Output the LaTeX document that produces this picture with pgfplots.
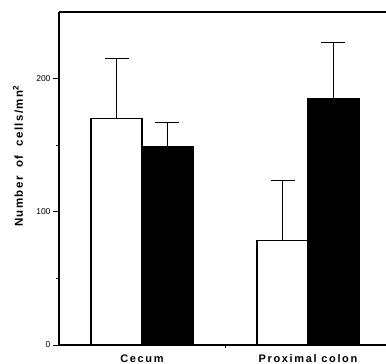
\documentclass[border=0pt]{standalone}
\usepackage{fontspec}
\setmainfont{Liberation Sans}
\usepackage{pgfplots}
\pgfplotsset{compat=1.18}
\begin{document}
\begin{tikzpicture}
\begin{axis}[
  scale only axis, width=327pt, height=333pt,
  xmin=-0.5, xmax=1.47, ymin=0, ymax=250,
  axis x line*=bottom, axis y line*=left,
  axis line style={line width=1.1pt},
  ytick={0,100,200}, minor ytick={50,150},
  tick align=outside, major tick length=6pt, minor tick length=3pt,
  tick style={line width=0.8pt, black},
  xtick={0,1}, xticklabels={Cecum, Proximal colon},
  xtick style={draw=none},
  /pgf/number format/assume math mode=true,
  yticklabel style={font=\fontsize{8.5}{10}\selectfont, xshift=1pt},
  xticklabel style={font=\fontsize{11}{13}\selectfont\bfseries\addfontfeatures{LetterSpace=15}, yshift=0pt},
  every axis y label/.style={at={(rel axis cs:0,0.567)}, xshift=-41pt, rotate=90, anchor=center, font=\fontsize{11.5}{13}\selectfont\bfseries\addfontfeatures{LetterSpace=12}},
  ylabel={Number\hspace{9pt}of\hspace{9pt}cells/mn\textsuperscript{2}},
  clip=false,
]
\addplot[ybar, bar width=0.307, bar shift=0, fill=white, draw=black, line width=1.3pt,
  error bars/.cd, y dir=plus, y explicit, error mark=|,
  error bar style={line width=1pt, black},
  error mark options={line width=1.3pt, mark size=12pt, black}]
  coordinates {(-0.1535,170) +- (0,45) (0.8465,78.6) +- (0,45)};
\addplot[ybar, bar width=0.307, bar shift=0, fill=black, draw=black, line width=1.3pt,
  error bars/.cd, y dir=plus, y explicit, error mark=|,
  error bar style={line width=1pt, black},
  error mark options={line width=1.3pt, mark size=12pt, black}]
  coordinates {(0.1535,149) +- (0,18) (1.1535,185) +- (0,42)};
\draw[line width=1.1pt] (rel axis cs:0,1) -- (rel axis cs:1,1);
\draw[line width=0.8pt] (axis cs:0.5,0) -- ([yshift=-3pt]axis cs:0.5,0);
\coordinate (ll) at (rel axis cs:0,0);
\coordinate (ur) at (rel axis cs:1,1);
\end{axis}
\pgfresetboundingbox
\path (ll) ++(-59pt,-19pt) rectangle ([yshift=12pt]ur);
\end{tikzpicture}
\end{document}
